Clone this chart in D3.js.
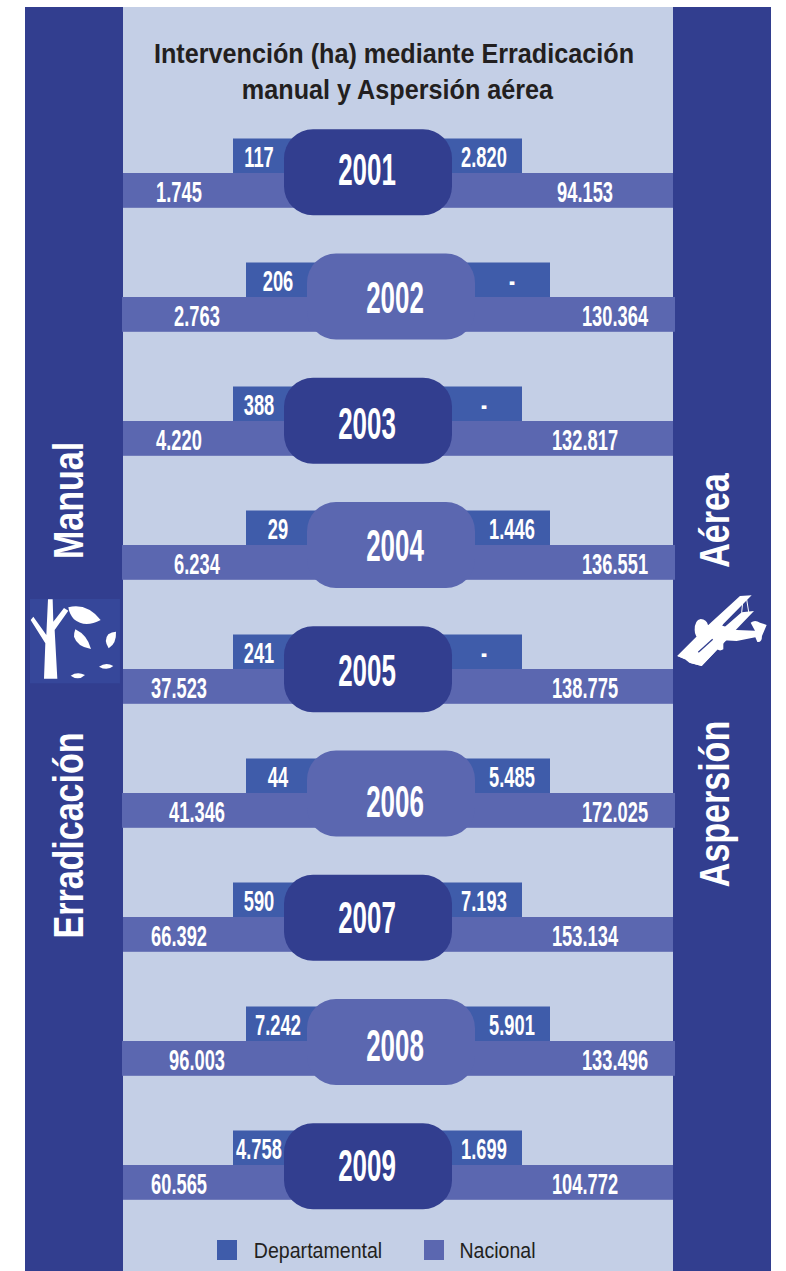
<!DOCTYPE html>
<html>
<head>
<meta charset="utf-8">
<script src="https://cdn.jsdelivr.net/npm/d3@7"></script>
<style>
  body { margin: 0; background: #fff; }
  text { font-family: "Liberation Sans", Arial, sans-serif; }
</style>
</head>
<body>
<div id="chart"></div>
<script>
// values as printed in the chart (hectares), null is the "-" in the original
const years = [2001, 2002, 2003, 2004, 2005, 2006, 2007, 2008, 2009];
const manualDepartamental = [117, 206, 388, 29, 241, 44, 590, 7242, 4758];
const manualNacional = [1745, 2763, 4220, 6234, 37523, 41346, 66392, 96003, 60565];
const aereaDepartamental = [2820, null, null, 1446, null, 5485, 7193, 5901, 1699];
const aereaNacional = [94153, 130364, 132817, 136551, 138775, 172025, 153134, 133496, 104772];
const legendLabels = ["Departamental", "Nacional"];

const width = 786, height = 1271;
const colDark = "#323e8f", colLight = "#c4cfe6", colNacional = "#5b67b0", colDepto = "#3f5caa";

const svg = d3.select("#chart")
    .append("svg")
    .attr("width", width)
    .attr("height", height)
    .style("display", "block");

const es = d3.formatLocale({ decimal: ",", thousands: ".", grouping: [3], currency: ["", ""] });
const fmt = v => v === null ? "-" : es.format(",d")(v);

// pills and bars do not share a rhythm in the original, so two scales
const yPill = d3.scalePoint().domain(years).range([129.3, 1123.3]);
const yBand = d3.scalePoint().domain(years).range([173, 1165]);
// the year sits a bit differently inside each pill
const yearBaseline = d3.scaleOrdinal().domain(years).range([55.7, 59.7, 61.3, 59, 59.5, 66.2, 58, 62, 57.4]);

// rows alternate between two staggered layouts
const layout = d3.scaleOrdinal().domain([0, 1]).range([
    { pillX: 284, deptL: 233, deptR: 522, natL: 123, natR: 673, pillCol: colDark,
      yearX: 367, labDeptL: 259, labDeptR: 484, labNatL: 179, labNatR: 585 },
    { pillX: 307, deptL: 246, deptR: 550, natL: 122, natR: 675, pillCol: colNacional,
      yearX: 395, labDeptL: 278, labDeptR: 512, labNatL: 197, labNatR: 615 }
]);
const pillW = 168, pillH = 86;

// helper for the condensed type, the fonts here have no such cut
function label(sel, x, yy, txt, size, sx, col, weight = "bold") {
    return sel.append("text")
        .attr("transform", `translate(${x},${yy}) scale(${sx},1)`)
        .attr("text-anchor", "middle")
        .attr("font-size", size)
        .attr("font-weight", weight)
        .attr("fill", col)
        .text(txt);
}

// background panels
svg.append("rect").attr("x", 25).attr("y", 7).attr("width", 746).attr("height", 1264).attr("fill", colDark);
svg.append("rect").attr("x", 123).attr("y", 7).attr("width", 550).attr("height", 1264).attr("fill", colLight);

// title
label(svg, 394, 63, "Intervención (ha) mediante Erradicación", 28, 0.9, "#231f20");
label(svg, 397.5, 98.5, "manual y Aspersión aérea", 28, 0.9, "#231f20");

// rows
years.forEach((year, i) => {
    const l = layout(i % 2);
    const band = svg.append("g").attr("transform", `translate(0,${yBand(year)})`);

    band.append("rect").attr("x", l.deptL).attr("y", -34.5).attr("width", l.deptR - l.deptL).attr("height", 34.5).attr("fill", colDepto);
    band.append("rect").attr("x", l.natL).attr("y", 0).attr("width", l.natR - l.natL).attr("height", 34.8).attr("fill", colNacional);

    const pill = svg.append("g").attr("transform", `translate(0,${yPill(year)})`);
    pill.append("rect").attr("x", l.pillX).attr("y", 0).attr("width", pillW).attr("height", pillH)
        .attr("rx", 29).attr("ry", 29).attr("fill", l.pillCol);
    label(pill, l.yearX, yearBaseline(year), year, 44, 0.59, "#fff");

    label(band, l.labDeptL, -6, fmt(manualDepartamental[i]), 30, 0.61, "#fff");
    label(band, l.labDeptR, -6, fmt(aereaDepartamental[i]), 30, 0.61, "#fff");
    label(band, l.labNatL, 29, fmt(manualNacional[i]), 30, 0.61, "#fff");
    label(band, l.labNatR, 29, fmt(aereaNacional[i]), 30, 0.61, "#fff");
});

// side titles
function sideLabel(x, yy, txt, sx) {
    svg.append("text")
        .attr("transform", `translate(${x},${yy}) rotate(-90) scale(${sx},1)`)
        .attr("text-anchor", "middle")
        .attr("font-size", 42)
        .attr("font-weight", "bold")
        .attr("fill", "#fff")
        .text(txt);
}
sideLabel(82.5, 500.5, "Manual", 0.81);
sideLabel(82.5, 835.5, "Erradicación", 0.81);
sideLabel(728.5, 520.5, "Aérea", 0.81);
sideLabel(728.5, 804, "Aspersión", 0.81);

// tree icon
const tree = svg.append("g").attr("transform", "translate(0,580) scale(0.3333)");
tree.append("rect").attr("x", 90).attr("y", 57).attr("width", 270).attr("height", 253).attr("fill", "#36479a");
tree.append("path").attr("fill", "#fff")
    .attr("d", "M144,58 L158,58 L160,125 L192,84 L205,92 L164,150 L172,296 L132,296 L136,190 L92,120 L100,110 L139,165 Z");
tree.append("path").attr("fill", "#fff")
    .attr("d", "M205,82 Q260,68 302,120 Q255,145 222,118 Q208,102 205,82 Z");
tree.append("path").attr("fill", "#fff")
    .attr("d", "M226,148 Q262,165 273,207 Q232,200 222,170 Q222,158 226,148 Z");
tree.append("path").attr("fill", "#fff")
    .attr("d", "M348,155 Q350,190 326,205 Q310,180 325,163 Q335,156 348,155 Z");
tree.append("path").attr("fill", "#fff")
    .attr("d", "M297,260 Q318,245 340,258 Q322,274 297,260 Z");
tree.append("path").attr("fill", "#fff")
    .attr("d", "M212,287 Q232,274 255,285 Q235,304 212,287 Z");

// plane icon
const plane = svg.append("g").attr("transform", "translate(660,580) scale(0.3333)");
plane.append("path").attr("fill", "#fff")
    .attr("d", "M240,48 L275,46 L190,132 L160,178 L75,238 L52,228 L145,135 Z");
plane.append("path").attr("fill", "#fff")
    .attr("d", "M245,97 L282,93 L225,152 L190,190 L125,258 L88,248 L125,212 L165,178 L195,140 Z");
plane.append("path").attr("fill", "#fff")
    .attr("d", "M145,135 L230,150 L190,190 L125,258 L88,248 L75,238 L52,228 Z");
plane.append("path").attr("fill", "#fff")
    .attr("d", "M104,150 Q104,120 122,117 Q140,118 144,135 L180,135 L230,150 L285,152 L272,128 Q285,118 300,128 L320,135 L306,168 Q306,188 292,186 L286,172 L230,183 L190,181 L190,208 Q178,216 168,205 L160,190 L120,178 Q104,170 104,150 Z");
plane.append("path").attr("fill", "none").attr("stroke", colDark).attr("stroke-width", 4)
    .attr("d", "M158,178 L115,217");
plane.append("path").attr("fill", "none").attr("stroke", "#fff").attr("stroke-width", 3)
    .attr("d", "M245,98 L248,68 M266,96 L260,58");

// legend
const legendX = d3.scaleOrdinal().domain(legendLabels).range([217, 424]);
const legendTextX = d3.scaleOrdinal().domain(legendLabels).range([318, 497.5]);
const legend = svg.append("g")
    .selectAll("g")
    .data(legendLabels)
    .join("g");
legend.append("rect")
    .attr("x", d => legendX(d))
    .attr("y", 1240)
    .attr("width", 20)
    .attr("height", 20)
    .attr("fill", (d, i) => i === 0 ? colDepto : colNacional);
legend.each(function (d) {
    label(d3.select(this), legendTextX(d), 1258, d, 22, 0.89, "#231f20", "normal");
});
</script>
</body>
</html>
